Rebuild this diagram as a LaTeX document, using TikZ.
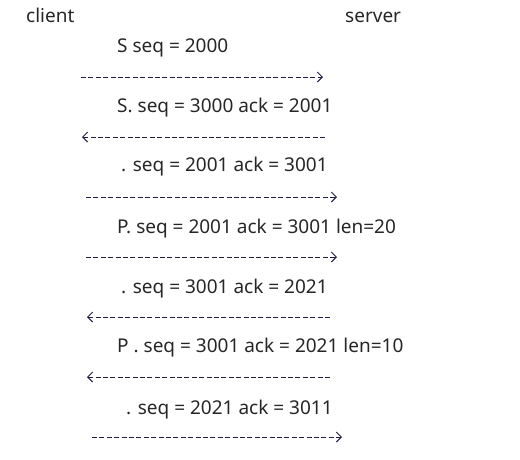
\documentclass[tikz,border=0pt]{standalone}
\usepackage{fontspec}
\setmainfont{Noto Sans}
\usetikzlibrary{arrows.meta}
\definecolor{txt}{HTML}{262626}
\definecolor{dash}{HTML}{1E1E44}
\tikzset{
  lbl/.style={anchor=base west, inner sep=0pt, text=txt, font=\fontsize{19}{22}\selectfont},
  msg/.style={draw=dash, line width=1pt, dash pattern=on 5pt off 2.4pt,
    -{Straight Barb[length=5pt,width=10pt,line width=1pt]}, shorten >=0pt}
}
\begin{document}
\begin{tikzpicture}[x=1pt,y=-1pt]
\useasboundingbox (0,0) rectangle (520,459);
\node[lbl] (client) at (26,22.5) {client};
\node[lbl] (server) at (345,22.5) {server};
\node[lbl] (t1) at (117,52.5) {S seq = 2000};
\node[lbl] (t2) at (117,112.5) {S. seq = 3000 ack = 2001};
\node[lbl] (t3) at (121,171.5) {. seq = 2001 ack = 3001};
\node[lbl] (t4) at (117,233.5) {P. seq = 2001 ack = 3001 len=20};
\node[lbl] (t5) at (121,293.5) {. seq = 3001 ack = 2021};
\node[lbl] (t6) at (117,352.5) {P . seq = 3001 ack = 2021 len=10};
\node[lbl] (t7) at (126,414.5) {. seq = 2021 ack = 3011};
\coordinate (a1) at (81,77);  \coordinate (b1) at (323,77);
\coordinate (a2) at (82,137); \coordinate (b2) at (325,137);
\coordinate (a3) at (86,197); \coordinate (b3) at (337,197);
\coordinate (a4) at (86,257); \coordinate (b4) at (337,257);
\coordinate (a5) at (87,317); \coordinate (b5) at (330,317);
\coordinate (a6) at (87,377); \coordinate (b6) at (330,377);
\coordinate (a7) at (92,437); \coordinate (b7) at (342,437);
\draw[msg] (a1) -- (b1);
\draw[msg] (b2) -- (a2);
\draw[msg] (a3) -- (b3);
\draw[msg] (a4) -- (b4);
\draw[msg] (b5) -- (a5);
\draw[msg] (b6) -- (a6);
\draw[msg] (a7) -- (b7);
\end{tikzpicture}
\end{document}
